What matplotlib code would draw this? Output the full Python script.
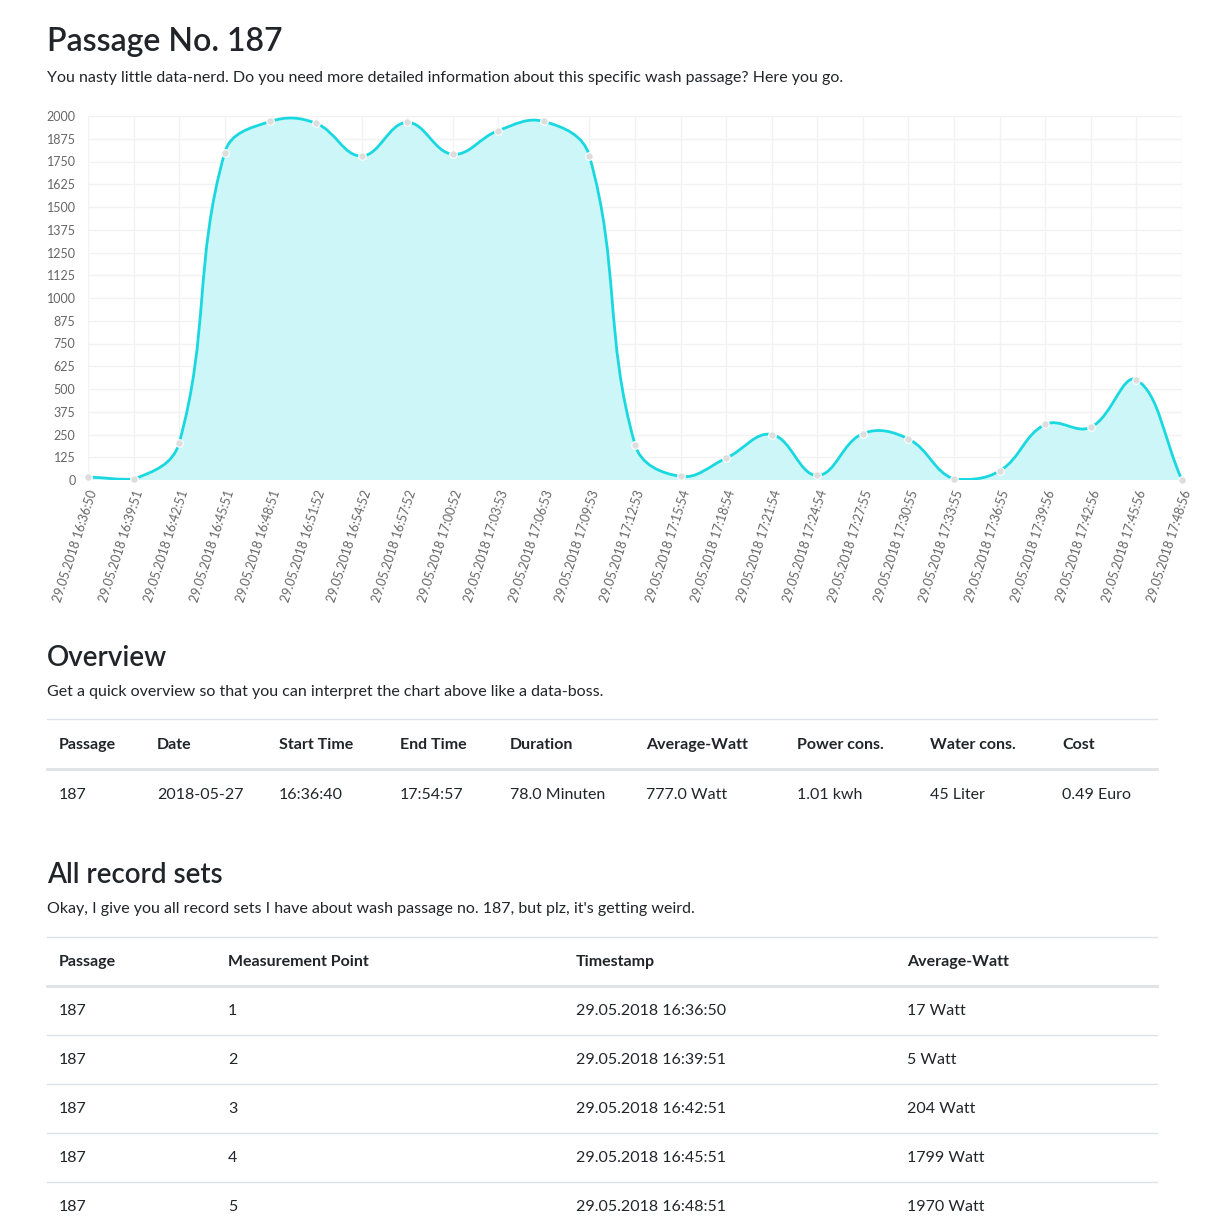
import numpy as np
import matplotlib.pyplot as plt
from matplotlib.path import Path
from matplotlib.patches import PathPatch

plt.rcParams['font.family'] = ['Lato', 'DejaVu Sans']

times = ["16:36:50", "16:39:51", "16:42:51", "16:45:51", "16:48:51", "16:51:52", "16:54:52",
         "16:57:52", "17:00:52", "17:03:53", "17:06:53", "17:09:53", "17:12:53", "17:15:54",
         "17:18:54", "17:21:54", "17:24:54", "17:27:55", "17:30:55", "17:33:55", "17:36:55",
         "17:39:56", "17:42:56", "17:45:56", "17:48:56"]
labels = ["29.05.2018 " + t for t in times]
watts = [17, 5, 204, 1799, 1970, 1960, 1780, 1965, 1790, 1920, 1970, 1780, 195, 20,
         120, 250, 25, 255, 225, 5, 50, 305, 290, 550, 0]

overview_head = ["Passage", "Date", "Start Time", "End Time", "Duration", "Average-Watt",
                 "Power cons.", "Water cons.", "Cost"]
overview_row = ["187", "2018-05-27", "16:36:40", "17:54:57", "78.0 Minuten", "777.0 Watt",
                "1.01 kwh", "45 Liter", "0.49 Euro"]
records_head = ["Passage", "Measurement Point", "Timestamp", "Average-Watt"]

W = 1226
fig = plt.figure(figsize=(12.26, 12.26), dpi=100)
bg = fig.add_axes([0, 0, 1, 1])
bg.set_xlim(0, W)
bg.set_ylim(W, 0)
bg.axis('off')

dark = '#212529'
bg.text(47, 42, "Passage No. 187", fontsize=23, fontweight='semibold', color=dark, va='center')
bg.text(47, 78, "You nasty little data-nerd. Do you need more detailed information about this specific wash passage? Here you go.",
        fontsize=11.5, color=dark, va='center')

# chart
ax = fig.add_axes([88 / W, 1 - 480 / W, 1094 / W, 364 / W])
x = np.arange(len(watts))
y = np.array(watts, float)
ax.set_xlim(0, len(watts) - 1)
ax.set_ylim(0, 2000)

# chart.js style bezier (tension 0.4) in pixel-like space
sx, sy = 1094 / (len(watts) - 1), 364 / 2000
px, py = x * sx, y * sy
t = 0.4
verts = [(x[0], y[0])]
codes = [Path.MOVETO]
cps = []
for i in range(len(x)):
    p0 = max(i - 1, 0); p2 = min(i + 1, len(x) - 1)
    d01 = np.hypot(px[i] - px[p0], py[i] - py[p0])
    d12 = np.hypot(px[p2] - px[i], py[p2] - py[i])
    s = d01 + d12 if d01 + d12 > 0 else 1
    fa, fb = t * d01 / s, t * d12 / s
    dx, dy = px[p2] - px[p0], py[p2] - py[p0]
    c1 = (px[i] - fa * dx, py[i] - fa * dy)
    c2 = (px[i] + fb * dx, py[i] + fb * dy)
    cps.append((c1, c2))
for i in range(len(x) - 1):
    a = cps[i][1]; b = cps[i + 1][0]
    verts += [(a[0] / sx, max(min(a[1] / sy, 2000), 0)),
              (b[0] / sx, max(min(b[1] / sy, 2000), 0)), (x[i + 1], y[i + 1])]
    codes += [Path.CURVE4] * 3
line_path = Path(verts, codes)
fill_path = Path(verts + [(x[-1], 0), (x[0], 0), (x[0], y[0])],
                 codes + [Path.LINETO, Path.LINETO, Path.CLOSEPOLY])
ax.add_patch(PathPatch(fill_path, facecolor='#ccf6f8', edgecolor='none'))
ax.add_patch(PathPatch(line_path, facecolor='none', edgecolor='#1ad8e0', lw=2))
ax.scatter(x, y, s=30, color='#dddddd', edgecolor='white', lw=0.8, zorder=5, clip_on=False)

ax.set_yticks(np.arange(0, 2001, 125))
ax.set_xticks(x)
ax.set_xticklabels(labels, rotation=72, ha='right', rotation_mode='anchor', fontsize=9, color='#666666')
ax.tick_params(axis='y', labelsize=9, labelcolor='#666666', length=0, pad=9)
ax.tick_params(axis='x', length=0, pad=6)
ax.grid(True, color='#f2f2f2', lw=1)
ax.set_axisbelow(True)
for sp in ax.spines.values():
    sp.set_visible(False)
ax.axhline(0, color='#e6e6e6', lw=1, zorder=0)

# overview
bg.text(47, 658, "Overview", fontsize=20, fontweight='semibold', color=dark, va='center')
bg.text(47, 692, "Get a quick overview so that you can interpret the chart above like a data-boss.",
        fontsize=11.5, color=dark, va='center')
ov_x = [59, 157, 279, 400, 510, 646, 797, 930, 1062]
bg.plot([47, 1157], [719, 719], color='#dee2e6', lw=1)
bg.plot([47, 1157], [769, 769], color='#dee2e6', lw=2)
for cx, h, r in zip(ov_x, overview_head, overview_row):
    bg.text(cx, 745, h, fontsize=11.5, fontweight='bold', color=dark, va='center')
    bg.text(cx, 795, r, fontsize=11.5, color=dark, va='center')

# records
bg.text(47, 875, "All record sets", fontsize=20, fontweight='semibold', color=dark, va='center')
bg.text(47, 909, "Okay, I give you all record sets I have about wash passage no. 187, but plz, it's getting weird.",
        fontsize=11.5, color=dark, va='center')
rc_x = [59, 228, 576, 907]
bg.plot([47, 1157], [937, 937], color='#dee2e6', lw=1)
bg.plot([47, 1157], [986, 986], color='#dee2e6', lw=2)
for cx, h in zip(rc_x, records_head):
    bg.text(cx, 962, h, fontsize=11.5, fontweight='bold', color=dark, va='center')
for k in range(5):
    ry = 1011 + 49 * k
    vals = ["187", str(k + 1), labels[k], f"{watts[k]} Watt"]
    for cx, v in zip(rc_x, vals):
        bg.text(cx, ry, v, fontsize=11.5, color=dark, va='center')
    if k < 4:
        bg.plot([47, 1157], [ry + 24, ry + 24], color='#dee2e6', lw=1)

fig.savefig('out.png', dpi=100, facecolor='white')
